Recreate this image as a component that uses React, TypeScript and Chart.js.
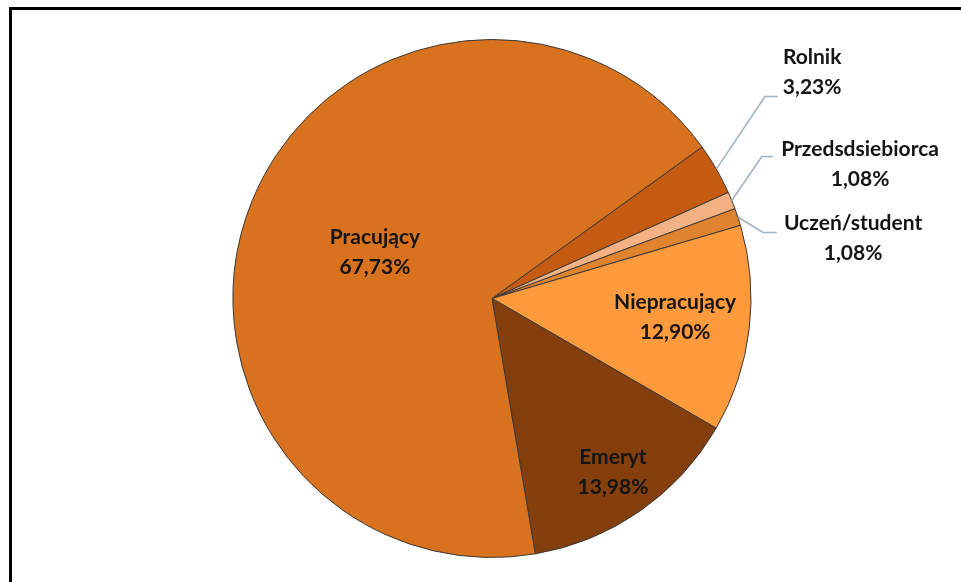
import React, { useEffect, useRef } from 'react';
import { Chart, registerables } from 'chart.js';

Chart.register(...registerables);

const categories = ['Rolnik', 'Przedsdsiebiorca', 'Uczeń/student', 'Niepracujący', 'Emeryt', 'Pracujący'];
const values = [3.23, 1.08, 1.08, 12.9, 13.98, 67.73];
const colors = ['#C55A11', '#F4B183', '#E0832E', '#FF9A3D', '#843F0C', '#D8721E'];

// label centres in units of the pie radius, relative to the pie centre
const labelPos: [number, number][] = [
  [1.236, -0.873],
  [1.421, -0.517],
  [1.394, -0.232],
  [0.707, 0.073],
  [0.467, 0.672],
  [-0.452, -0.178],
];
// leader lines (elbow x, elbow y, end x) in radius units; null = inside label
const leaders: ([number, number, number] | null)[] = [
  [1.054, -0.78, 1.104],
  [1.042, -0.548, 1.085],
  [1.046, -0.255, 1.1],
  null,
  null,
  null,
];

const fmt = (v: number) => v.toFixed(2).replace('.', ',') + '%';

const framePlugin = {
  id: 'frame',
  beforeDraw(chart: any) {
    const ctx = chart.ctx;
    ctx.save();
    ctx.fillStyle = '#ffffff';
    ctx.fillRect(0, 0, chart.width, chart.height);
    ctx.fillStyle = '#000000';
    ctx.fillRect(9, 7, chart.width - 9, 3);
    ctx.fillRect(9, 7, 3, chart.height - 7);
    ctx.restore();
  },
};

const labelPlugin = {
  id: 'pieLabels',
  afterDatasetsDraw(chart: any) {
    const ctx = chart.ctx;
    const meta = chart.getDatasetMeta(0);
    ctx.save();
    meta.data.forEach((arc: any, i: number) => {
      const cx = arc.x;
      const cy = arc.y;
      const R = arc.outerRadius;
      const mid = (arc.startAngle + arc.endAngle) / 2;
      const ld = leaders[i];
      if (ld) {
        ctx.strokeStyle = '#A3B0C0';
        ctx.lineWidth = 1.5;
        ctx.beginPath();
        ctx.moveTo(cx + Math.cos(mid) * R, cy + Math.sin(mid) * R);
        ctx.lineTo(cx + ld[0] * R, cy + ld[1] * R);
        ctx.lineTo(cx + ld[2] * R, cy + ld[1] * R);
        ctx.stroke();
      }
      const lx = cx + labelPos[i][0] * R;
      const ly = cy + labelPos[i][1] * R;
      ctx.fillStyle = '#141414';
      ctx.font = 'bold 21px Lato, "Open Sans", sans-serif';
      ctx.textAlign = 'center';
      ctx.textBaseline = 'middle';
      ctx.fillText(categories[i], lx, ly - 15);
      ctx.fillText(fmt(values[i]), lx, ly + 15);
    });
    ctx.restore();
  },
};

export default function App() {
  const ref = useRef<HTMLCanvasElement | null>(null);
  useEffect(() => {
    if (!ref.current) return;
    const chart = new Chart(ref.current, {
      type: 'pie',
      data: {
        labels: categories,
        datasets: [
          {
            data: values,
            backgroundColor: colors,
            borderColor: '#3A3A3A',
            borderWidth: 1,
          },
        ],
      },
      options: {
        responsive: false,
        animation: false,
        rotation: 54.2,
        layout: { padding: { top: 39, bottom: 24, left: 200, right: 177 } },
        plugins: {
          legend: { display: false },
          tooltip: { enabled: false },
        },
      },
      plugins: [framePlugin, labelPlugin],
    });
    return () => chart.destroy();
  }, []);
  return (
    <div style={{ position: 'fixed', left: 0, top: 0, width: 961, height: 582 }}>
      <canvas ref={ref} width={961} height={582} style={{ width: 961, height: 582, display: 'block' }} />
    </div>
  );
}
